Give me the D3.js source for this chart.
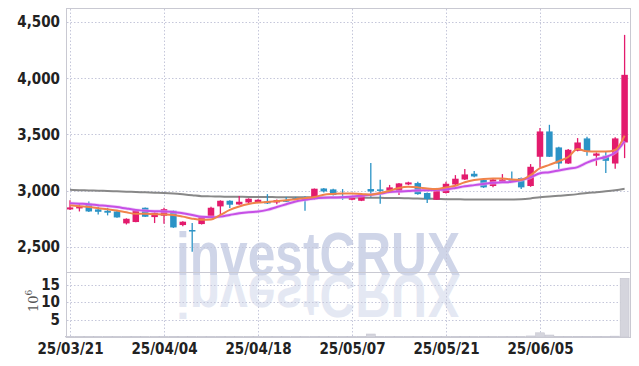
<!DOCTYPE html>
<html><head><meta charset="utf-8">
<script src="https://cdn.jsdelivr.net/npm/d3@7"></script>
<style>
html,body{margin:0;padding:0;background:#fff;}
svg{display:block;}
.tk{font-family:"Liberation Sans Narrow","DejaVu Sans Condensed",sans-serif;font-weight:bold;font-size:15px;fill:#222;}
</style></head>
<body><svg id="c" width="639" height="366"></svg>
<script>
const dates = ["25/03/21","25/03/24","25/03/25","25/03/26","25/03/27","25/03/28","25/03/31","25/04/01","25/04/02","25/04/03",
"25/04/04","25/04/07","25/04/08","25/04/09","25/04/10","25/04/11","25/04/14","25/04/15","25/04/16","25/04/17",
"25/04/18","25/04/21","25/04/22","25/04/23","25/04/24","25/04/25","25/04/28","25/04/29","25/04/30","25/05/02",
"25/05/07","25/05/08","25/05/09","25/05/12","25/05/13","25/05/14","25/05/15","25/05/16","25/05/19","25/05/20",
"25/05/21","25/05/22","25/05/23","25/05/26","25/05/27","25/05/28","25/05/29","25/05/30","25/06/02","25/06/04",
"25/06/05","25/06/09","25/06/10","25/06/11","25/06/12","25/06/13","25/06/16","25/06/17","25/06/18","25/06/19"];
const open  = [2834,2843,2885,2834,2822,2816,2710,2722,2849,2766,2778,2822,2695,2651,2704,2763,2861,2911,2878,2896,
2896,2905,2896,2915,2935,2945,2926,3020,3012,2948,2920,2911,3015,3012,3000,2997,3056,3068,2980,2920,
2980,3056,3100,3151,3095,3042,3080,3100,3113,3042,3302,3527,3385,3242,3355,3465,3311,3311,3242,3429];
const high  = [2915,2891,2905,2861,2849,2820,2755,2835,2852,2810,2849,2825,2728,2713,2773,2858,2915,2915,2953,2933,
2925,2970,2922,2945,2945,2950,3020,3025,3018,3015,2945,2972,3246,3098,3052,3068,3080,3080,2985,3025,
3080,3139,3193,3175,3112,3108,3148,3170,3118,3237,3557,3586,3390,3370,3468,3480,3340,3349,3475,4385];
const low   = [2828,2816,2812,2790,2781,2760,2700,2720,2766,2713,2707,2670,2685,2458,2700,2760,2787,2846,2875,2885,
2890,2882,2880,2900,2920,2822,2922,2985,2958,2920,2915,2908,2941,2885,2998,2962,3050,2965,2891,2918,
2975,3050,3095,3120,3025,3030,3070,3085,3015,3035,3207,3300,3193,3238,3350,3310,3222,3157,3195,3290];
const close = [2852,2867,2816,2813,2805,2763,2751,2831,2769,2805,2837,2674,2725,2640,2769,2849,2911,2876,2902,2929,
2920,2887,2917,2905,2925,2915,3018,2994,2962,2942,2941,2967,2994,3003,3030,3065,3074,2970,2926,3018,
3062,3107,3145,3127,3030,3100,3100,3092,3030,3213,3527,3302,3242,3364,3429,3346,3331,3266,3465,4030];
const volume = [0.12,0.1,0.1,0.08,0.08,0.1,0.1,0.12,0.1,0.1,0.12,0.15,0.1,0.15,0.1,0.12,0.12,0.1,0.1,0.1,
0.08,0.1,0.08,0.08,0.08,0.1,0.15,0.1,0.1,0.1,0.08,0.1,0.86,0.15,0.1,0.12,0.1,0.12,0.12,0.1,
0.1,0.12,0.15,0.1,0.12,0.1,0.1,0.08,0.1,0.3,1.2,0.57,0.2,0.2,0.2,0.2,0.2,0.15,0.25,16.8];
const ma5 = [2870,2862,2855,2845,2835,2825,2808,2795,2795,2792,2790,2785,2770,2752,2742,2745,2785,2830,2860,2882,
2895,2900,2908,2915,2925,2935,2945,2965,2972,2976,2975,2972,2965,2980,3000,3025,3035,3030,3020,3015,
3030,3045,3075,3095,3105,3108,3108,3100,3098,3140,3200,3230,3262,3300,3370,3350,3348,3348,3362,3490];
const ma10 = [2890,2885,2880,2872,2865,2855,2842,2830,2822,2818,2816,2812,2800,2785,2768,2765,2770,2785,2800,2810,
2815,2830,2855,2880,2905,2920,2932,2938,2940,2942,2948,2955,2964,2975,2988,2994,2998,3003,3005,3008,
3012,3025,3040,3050,3060,3070,3075,3080,3095,3120,3155,3165,3180,3195,3210,3250,3280,3300,3340,3440];
const maLong = [3008,3005,3003,3000,2998,2995,2992,2989,2986,2983,2980,2975,2968,2960,2952,2950,2948,2947,2946,2945,
2945,2944,2943,2942,2942,2942,2941,2941,2940,2940,2940,2939,2938,2937,2936,2935,2933,2931,2929,2927,
2925,2924,2923,2922,2922,2922,2922,2923,2925,2932,2942,2948,2955,2962,2970,2980,2987,2995,3005,3018];
const priceTicks = [2500,3000,3500,4000,4500];
const volTicks = [5,10,15];
const dateTicks = ["25/03/21","25/04/04","25/04/18","25/05/07","25/05/21","25/06/05"];

const svg = d3.select("#c");
const L = 67, R = 630, T = 9, MID = 272, B = 337;
const x = d3.scalePoint().domain(dates).range([70, 624.6]);
const y = d3.scaleLinear().domain([2278, 4615]).range([MID, T]);
const yv = d3.scaleLinear().domain([0, 18.6]).range([B, MID]);
const UP = "#e31b6d", DN = "#2b93c6";

// watermark (reflection drawn with <use> of the same text)
const defs = svg.append("defs");
defs.append("text").attr("id", "wmtext").attr("x", 176).attr("y", 275)
  .attr("textLength", 284).attr("lengthAdjust", "spacingAndGlyphs")
  .style("font-family", "Liberation Sans, Arial, sans-serif").style("font-weight", "bold").style("font-size", "61px")
  .text("investCRUX");
const wm = svg.append("g");
wm.append("use").attr("href", "#wmtext").attr("fill", "#e4e8f3")
  .attr("transform", "translate(0,550) scale(1,-1)");
wm.append("use").attr("href", "#wmtext").attr("fill", "#cfd5e8");

// grid
const grid = svg.append("g").attr("stroke", "#c5c7da").attr("stroke-dasharray", "1.5,2").attr("stroke-width", 1);
priceTicks.forEach(t => grid.append("line").attr("x1", L).attr("x2", R).attr("y1", Math.round(y(t)) + 0.5).attr("y2", Math.round(y(t)) + 0.5));
volTicks.forEach(t => grid.append("line").attr("x1", L).attr("x2", R).attr("y1", Math.round(yv(t)) + 0.5).attr("y2", Math.round(yv(t)) + 0.5));
dateTicks.forEach(d => grid.append("line").attr("x1", Math.round(x(d)) + 0.5).attr("x2", Math.round(x(d)) + 0.5).attr("y1", T).attr("y2", B));

// volume bars
const bw = x.step() * 0.95;
svg.append("g").selectAll("rect").data(dates).join("rect")
  .attr("x", d => x(d) - bw / 2).attr("width", bw)
  .attr("y", (d, i) => yv(volume[i])).attr("height", (d, i) => B - yv(volume[i]))
  .attr("fill", "#d5d5dd").attr("stroke", "#c0c0cc").attr("stroke-width", 0.5);

// MA lines
const line = arr => d3.line().x((d, i) => x(dates[i])).y(d => y(d)).curve(d3.curveMonotoneX)(arr);
svg.append("path").attr("d", line(maLong)).attr("fill", "none").attr("stroke", "#888").attr("stroke-width", 2);

// candles
const cw = 6.5;
const cg = svg.append("g");
dates.forEach((d, i) => {
  const c = close[i] >= open[i] ? UP : DN;
  cg.append("line").attr("x1", x(d)).attr("x2", x(d)).attr("y1", y(high[i])).attr("y2", y(low[i])).attr("stroke", c).attr("stroke-width", 1.3);
  const top = y(Math.max(open[i], close[i])), bot = y(Math.min(open[i], close[i]));
  cg.append("rect").attr("x", x(d) - cw / 2).attr("width", cw).attr("y", top).attr("height", Math.max(1.5, bot - top)).attr("fill", c);
});
svg.append("path").attr("d", line(ma10)).attr("fill", "none").attr("stroke", "#e6b8f5").attr("stroke-width", 3.5).attr("opacity", 0.6);
svg.append("path").attr("d", line(ma10)).attr("fill", "none").attr("stroke", "#c64fe6").attr("stroke-width", 2);
svg.append("path").attr("d", line(ma5)).attr("fill", "none").attr("stroke", "#f0834a").attr("stroke-width", 2);

// frame
const fr = svg.append("g").attr("stroke", "#c9c9d2").attr("stroke-width", 1).attr("fill", "none");
fr.append("rect").attr("x", L - 0.5).attr("y", T - 0.5).attr("width", R - L + 1).attr("height", B - T + 1);
fr.append("line").attr("x1", L).attr("x2", R).attr("y1", MID + 0.5).attr("y2", MID + 0.5);

// axes
const ay = svg.append("g").attr("transform", `translate(${L},0)`)
  .call(d3.axisLeft(y).tickValues(priceTicks).tickFormat(d3.format(",")).tickSize(0).tickPadding(7));
const av = svg.append("g").attr("transform", `translate(${L},0)`)
  .call(d3.axisLeft(yv).tickValues(volTicks).tickSize(0).tickPadding(7));
const ax = svg.append("g").attr("transform", `translate(0,${B})`)
  .call(d3.axisBottom(x).tickValues(dateTicks).tickSize(0).tickPadding(6));
[ay, av, ax].forEach(g => { g.select(".domain").remove(); g.selectAll("text").attr("class", "tk").attr("fill", null); });

// volume unit label
const ul = svg.append("text").attr("transform", "translate(38,312) rotate(-90)")
  .style("font-family", "DejaVu Serif, serif").style("font-size", "13px").attr("fill", "#555");
ul.append("tspan").text("10");
ul.append("tspan").attr("dy", -6).style("font-size", "9px").text("6");
</script></body></html>
